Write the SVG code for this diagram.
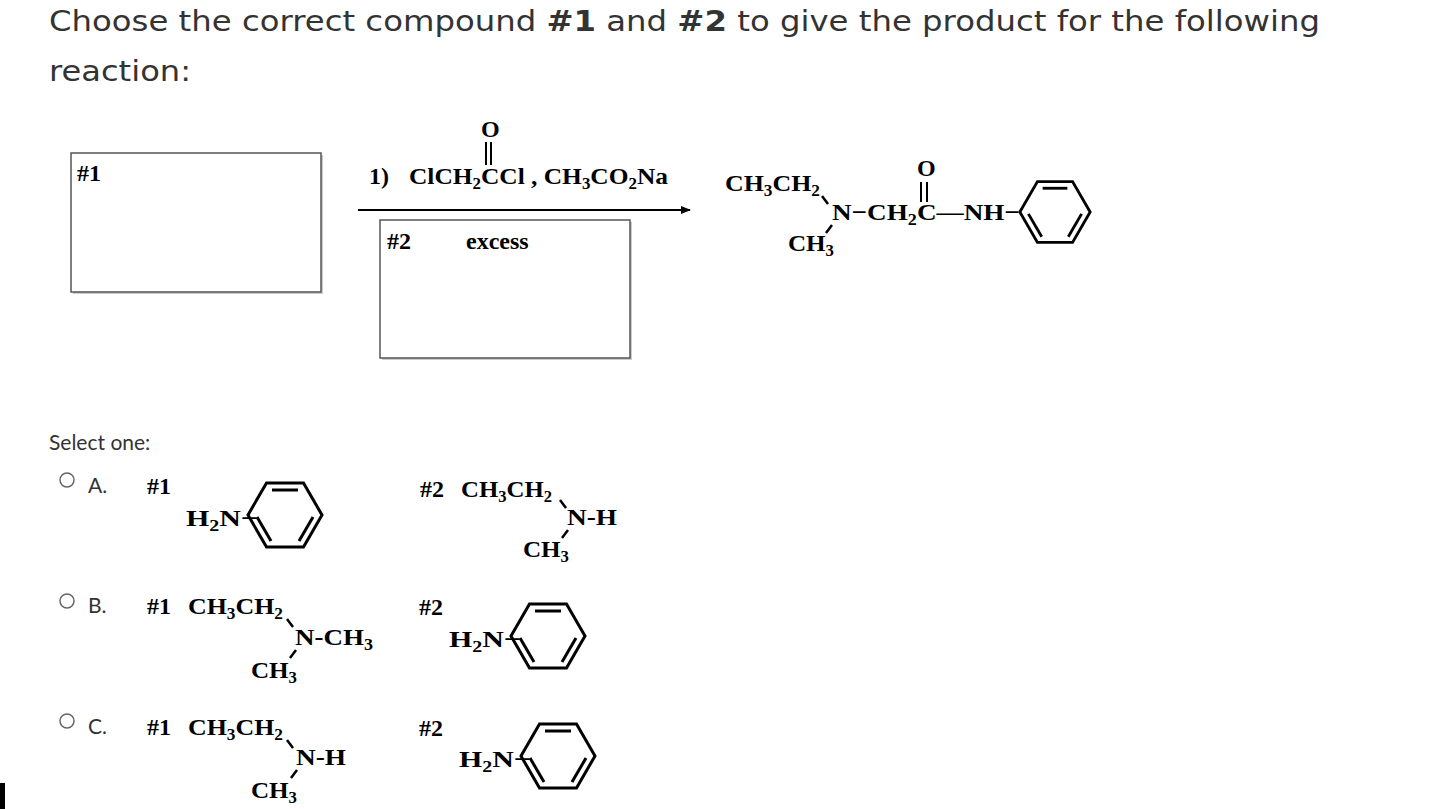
<svg xmlns="http://www.w3.org/2000/svg" width="1430" height="809" viewBox="0 0 1430 809">
<style>
.h{font-family:"DejaVu Sans","Open Sans",sans-serif;font-size:29px;fill:#333}
.s{font-family:"Lato","Open Sans",sans-serif;font-size:21px;fill:#333}
.c{font-family:"Liberation Serif",serif;font-weight:bold;font-size:24px;fill:#000}
.sm{font-size:16px}
.b{stroke:#000;stroke-width:3;fill:none}
.bx{fill:#fff;stroke:#555;stroke-width:1.5}
.l{stroke:#000;stroke-width:2.5}
</style>
<defs>
<g id="bz">
<polygon class="b" points="-37,0 -18.5,-32 18.5,-32 37,0 18.5,32 -18.5,32"/>
<line class="b" x1="-13" y1="-25" x2="13" y2="-25"/>
<line class="b" x1="-28" y1="2" x2="-14" y2="26"/>
<line class="b" x1="28" y1="2" x2="14" y2="26"/>
</g>
<marker id="ar" markerWidth="10" markerHeight="8" refX="9" refY="4" orient="auto" markerUnits="userSpaceOnUse"><path d="M0,0L10,4L0,8z"/></marker>
</defs>
<rect width="1430" height="809" fill="#fff"/>
<text class="h" x="49" y="31" textLength="1271" lengthAdjust="spacingAndGlyphs">Choose the correct compound <tspan font-weight="bold">#1</tspan> and <tspan font-weight="bold">#2</tspan> to give the product for the following</text>
<text class="h" x="49" y="81" textLength="142" lengthAdjust="spacingAndGlyphs">reaction:</text>

<g id="box1"><rect x="73" y="155" width="250" height="139" fill="#ccc"/><rect class="bx" x="71" y="153" width="250" height="139"/><text class="c" x="77" y="181" font-weight="normal" font-size="21">#1</text></g>
<g id="box2"><rect x="382" y="222" width="250" height="138" fill="#ccc"/><rect class="bx" x="380" y="220" width="250" height="138"/><text class="c" x="387" y="249" font-weight="normal" font-size="21">#2</text><text class="c" x="466" y="249" font-size="21">excess</text></g>

<g id="reagent">
<text class="c" x="369" y="184">1)</text>
<text class="c" x="409" y="184" textLength="259" lengthAdjust="spacingAndGlyphs">ClCH<tspan class="sm" dy="5">2</tspan><tspan dy="-5">CCl , CH</tspan><tspan class="sm" dy="5">3</tspan><tspan dy="-5">CO</tspan><tspan class="sm" dy="5">2</tspan><tspan dy="-5">Na</tspan></text>
<text class="c" x="481" y="137" font-size="22">O</text>
<line x1="486" y1="142" x2="486" y2="165" stroke="#000" stroke-width="2"/>
<line x1="491" y1="142" x2="491" y2="165" stroke="#000" stroke-width="2"/>
</g>
<g id="connectors"><line x1="358" y1="210" x2="690" y2="210" stroke="#000" stroke-width="2" marker-end="url(#ar)"/></g>

<g id="product">
<text class="c" x="725" y="191" textLength="95" lengthAdjust="spacingAndGlyphs">CH<tspan class="sm" dy="5">3</tspan><tspan dy="-5">CH</tspan><tspan class="sm" dy="5">2</tspan></text>
<line class="l" x1="822" y1="196" x2="828" y2="204"/>
<text class="c" x="832" y="220" textLength="188" lengthAdjust="spacingAndGlyphs">N−CH<tspan class="sm" dy="5">2</tspan><tspan dy="-5">C—NH−</tspan></text>
<line class="l" x1="832" y1="225" x2="826" y2="233"/>
<text class="c" x="788" y="251" textLength="46" lengthAdjust="spacingAndGlyphs">CH<tspan class="sm" dy="5">3</tspan></text>
<text class="c" x="917" y="176" font-size="21">O</text>
<line x1="921" y1="182" x2="921" y2="202" stroke="#000" stroke-width="2"/>
<line x1="927" y1="182" x2="927" y2="202" stroke="#000" stroke-width="2"/>
<use href="#bz" transform="translate(1055 212) scale(0.95)"/>
</g>

<text class="s" x="49" y="450">Select one:</text>

<g id="optA">
<circle cx="67" cy="480" r="7" fill="none" stroke="#666" stroke-width="1.5"/>
<text class="s" x="88" y="493">A.</text>
<text class="c" x="147" y="494" font-size="22">#1</text>
<text class="c" x="186" y="526" textLength="72" lengthAdjust="spacingAndGlyphs">H<tspan class="sm" dy="5">2</tspan><tspan dy="-5">N−</tspan></text>
<use href="#bz" x="285" y="515"/>
<text class="c" x="420" y="497" font-size="22">#2</text>
<text class="c" x="461" y="497" textLength="91" lengthAdjust="spacingAndGlyphs">CH<tspan class="sm" dy="5">3</tspan><tspan dy="-5">CH</tspan><tspan class="sm" dy="5">2</tspan></text>
<line class="l" x1="560" y1="500" x2="566" y2="508"/>
<text class="c" x="567" y="525" textLength="50" lengthAdjust="spacingAndGlyphs">N-H</text>
<line class="l" x1="568" y1="530" x2="562" y2="538"/>
<text class="c" x="523" y="557" textLength="46" lengthAdjust="spacingAndGlyphs">CH<tspan class="sm" dy="5">3</tspan></text>
</g>

<g id="optB">
<circle cx="67" cy="601" r="7" fill="none" stroke="#666" stroke-width="1.5"/>
<text class="s" x="88" y="613">B.</text>
<text class="c" x="147" y="614" font-size="22">#1</text>
<text class="c" x="188" y="614" textLength="95" lengthAdjust="spacingAndGlyphs">CH<tspan class="sm" dy="5">3</tspan><tspan dy="-5">CH</tspan><tspan class="sm" dy="5">2</tspan></text>
<line class="l" x1="287" y1="619" x2="293" y2="627"/>
<text class="c" x="295" y="645" textLength="78" lengthAdjust="spacingAndGlyphs">N-CH<tspan class="sm" dy="5">3</tspan></text>
<line class="l" x1="296" y1="650" x2="290" y2="658"/>
<text class="c" x="251" y="678" textLength="46" lengthAdjust="spacingAndGlyphs">CH<tspan class="sm" dy="5">3</tspan></text>
<text class="c" x="419" y="615" font-size="22">#2</text>
<text class="c" x="449" y="647" textLength="72" lengthAdjust="spacingAndGlyphs">H<tspan class="sm" dy="5">2</tspan><tspan dy="-5">N−</tspan></text>
<use href="#bz" x="548" y="636"/>
</g>

<g id="optC">
<circle cx="67" cy="721" r="7" fill="none" stroke="#666" stroke-width="1.5"/>
<text class="s" x="88" y="734">C.</text>
<text class="c" x="147" y="735" font-size="22">#1</text>
<text class="c" x="188" y="735" textLength="95" lengthAdjust="spacingAndGlyphs">CH<tspan class="sm" dy="5">3</tspan><tspan dy="-5">CH</tspan><tspan class="sm" dy="5">2</tspan></text>
<line class="l" x1="287" y1="740" x2="293" y2="748"/>
<text class="c" x="296" y="765" textLength="50" lengthAdjust="spacingAndGlyphs">N-H</text>
<line class="l" x1="297" y1="770" x2="291" y2="778"/>
<text class="c" x="251" y="798" textLength="46" lengthAdjust="spacingAndGlyphs">CH<tspan class="sm" dy="5">3</tspan></text>
<text class="c" x="419" y="736" font-size="22">#2</text>
<text class="c" x="459" y="767" textLength="72" lengthAdjust="spacingAndGlyphs">H<tspan class="sm" dy="5">2</tspan><tspan dy="-5">N−</tspan></text>
<use href="#bz" x="558" y="756"/>
</g>
<rect x="0" y="783" width="5" height="26" fill="#000"/>
</svg>
